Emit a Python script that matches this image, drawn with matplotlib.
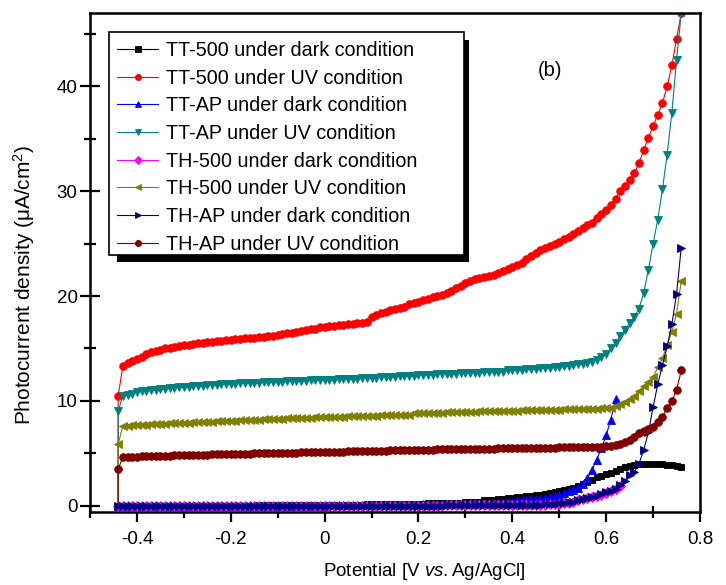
import numpy as np
import matplotlib
matplotlib.use("Agg")
from matplotlib import pyplot as plt
from matplotlib.ticker import MultipleLocator, FuncFormatter
from matplotlib.patches import Rectangle

plt.rcParams['font.family'] = ['Liberation Sans', 'DejaVu Sans']
plt.rcParams['mathtext.fontset'] = 'custom'
plt.rcParams['mathtext.rm'] = 'Liberation Sans'
plt.rcParams['mathtext.it'] = 'Liberation Sans:italic'
plt.rcParams['axes.unicode_minus'] = False

# potential grid, V vs Ag/AgCl
potential = np.round(np.arange(-0.44, 0.7651, 0.01), 2)

# TT-500 under dark condition
tt500_dark = [
    -0.1, 0.0, 0.0, 0.0, 0.0, 0.0, 0.0, 0.0, 0.0, 0.0,
    0.0, 0.0, 0.0, 0.0, 0.0, 0.0, 0.0, 0.0, 0.0, 0.0,
    0.0, 0.0, 0.0, 0.0, 0.0, 0.0, 0.0, 0.0, 0.0, 0.0,
    0.1, 0.1, 0.1, 0.1, 0.1, 0.1, 0.1, 0.1, 0.1, 0.1,
    0.1, 0.1, 0.1, 0.1, 0.1, 0.1, 0.1, 0.1, 0.1, 0.1,
    0.1, 0.1, 0.1, 0.2, 0.2, 0.2, 0.2, 0.2, 0.2, 0.2,
    0.2, 0.2, 0.2, 0.2, 0.2, 0.2, 0.3, 0.3, 0.3, 0.3,
    0.3, 0.3, 0.3, 0.3, 0.4, 0.4, 0.4, 0.4, 0.5, 0.5,
    0.5, 0.6, 0.6, 0.7, 0.7, 0.8, 0.8, 0.9, 0.9, 1.0,
    1.0, 1.1, 1.2, 1.3, 1.4, 1.5, 1.6, 1.7, 1.9, 2.1,
    2.3, 2.5, 2.7, 2.8, 3.0, 3.1, 3.3, 3.5, 3.7, 3.8,
    3.9, 4.0, 4.0, 4.0, 4.0, 4.0, 4.0, 3.9, 3.9, 3.8,
    3.7]

# TT-500 under UV condition
tt500_uv = [
    10.5, 13.3, 13.6, 13.8, 14.0, 14.2, 14.5, 14.7, 14.8, 14.9,
    15.0, 15.0, 15.1, 15.2, 15.3, 15.3, 15.4, 15.5, 15.5, 15.6,
    15.6, 15.7, 15.7, 15.8, 15.8, 15.9, 15.9, 16.0, 16.0, 16.0,
    16.1, 16.1, 16.2, 16.2, 16.3, 16.4, 16.5, 16.5, 16.6, 16.7,
    16.8, 16.9, 16.9, 17.0, 17.0, 17.1, 17.1, 17.2, 17.2, 17.3,
    17.3, 17.4, 17.4, 17.5, 18.0, 18.2, 18.4, 18.5, 18.7, 18.8,
    18.9, 19.0, 19.2, 19.3, 19.4, 19.6, 19.7, 19.9, 20.0, 20.1,
    20.3, 20.5, 20.8, 21.0, 21.2, 21.4, 21.6, 21.7, 21.8, 21.9,
    22.0, 22.2, 22.4, 22.6, 22.8, 23.0, 23.2, 23.5, 23.8, 24.1,
    24.4, 24.6, 24.8, 25.0, 25.2, 25.4, 25.6, 25.9, 26.2, 26.5,
    26.8, 27.0, 27.4, 27.8, 28.2, 28.7, 29.3, 30.0, 30.5, 31.1,
    31.7, 32.7, 33.9, 35.1, 36.2, 37.3, 38.4, 40.0, 42.0, 44.5,
    47.0]

# TT-AP under dark condition (ends at 0.62 V)
ttap_dark = [
    0.0, 0.0, 0.0, 0.0, 0.0, 0.0, 0.0, 0.0, 0.0, 0.0,
    0.0, 0.0, 0.0, 0.0, 0.0, 0.0, 0.0, 0.0, 0.0, 0.0,
    0.0, 0.0, 0.0, 0.0, 0.0, 0.0, 0.0, 0.0, 0.0, 0.0,
    0.0, 0.0, 0.0, 0.0, 0.0, 0.0, 0.0, 0.0, 0.0, 0.0,
    0.0, 0.0, 0.0, 0.0, 0.0, 0.1, 0.1, 0.1, 0.1, 0.1,
    0.1, 0.1, 0.1, 0.1, 0.1, 0.1, 0.1, 0.1, 0.1, 0.1,
    0.1, 0.1, 0.1, 0.1, 0.1, 0.2, 0.2, 0.2, 0.2, 0.2,
    0.2, 0.2, 0.2, 0.2, 0.2, 0.3, 0.3, 0.3, 0.3, 0.3,
    0.3, 0.3, 0.4, 0.4, 0.4, 0.5, 0.5, 0.5, 0.6, 0.6,
    0.6, 0.7, 0.8, 0.9, 1.0, 1.2, 1.4, 1.5, 1.7, 2.1,
    2.6, 3.4, 4.4, 5.5, 6.7, 8.2, 10.2]

# TT-AP under UV condition
ttap_uv = [
    9.0, 10.5, 10.6, 10.7, 10.8, 10.9, 10.9, 11.0, 11.0, 11.1,
    11.1, 11.2, 11.2, 11.3, 11.3, 11.3, 11.4, 11.4, 11.4, 11.5,
    11.5, 11.5, 11.6, 11.6, 11.6, 11.6, 11.7, 11.7, 11.7, 11.7,
    11.7, 11.8, 11.8, 11.8, 11.8, 11.8, 11.9, 11.9, 11.9, 11.9,
    11.9, 12.0, 12.0, 12.0, 12.0, 12.0, 12.0, 12.1, 12.1, 12.1,
    12.1, 12.1, 12.2, 12.2, 12.2, 12.2, 12.3, 12.3, 12.3, 12.3,
    12.4, 12.4, 12.4, 12.4, 12.5, 12.5, 12.5, 12.5, 12.6, 12.6,
    12.6, 12.6, 12.6, 12.7, 12.7, 12.7, 12.7, 12.7, 12.8, 12.8,
    12.8, 12.8, 12.8, 12.9, 12.9, 12.9, 12.9, 13.0, 13.0, 13.0,
    13.1, 13.1, 13.1, 13.2, 13.2, 13.3, 13.3, 13.4, 13.5, 13.5,
    13.6, 13.7, 13.9, 14.2, 14.5, 15.0, 15.5, 16.2, 16.8, 17.4,
    18.0, 18.8, 20.3, 22.5, 25.0, 27.3, 30.2, 33.5, 37.5, 42.5,
    47.0]

# TH-500 under dark condition (ends at 0.63 V)
th500_dark = [
    0.0, 0.0, 0.0, 0.0, 0.0, 0.0, 0.0, 0.0, 0.0, 0.0,
    0.0, 0.0, 0.0, 0.0, 0.0, 0.0, 0.0, 0.0, 0.0, 0.0,
    0.0, 0.0, 0.0, 0.0, 0.0, 0.0, 0.0, 0.0, 0.0, 0.0,
    0.0, 0.0, 0.0, 0.0, 0.0, 0.0, 0.0, 0.0, 0.0, 0.0,
    0.0, 0.0, 0.0, 0.0, 0.0, 0.0, 0.0, 0.0, 0.0, 0.0,
    0.0, 0.0, 0.0, 0.0, 0.0, 0.0, 0.0, 0.0, 0.0, 0.0,
    0.0, 0.0, 0.0, 0.0, 0.0, 0.0, 0.0, 0.0, 0.0, 0.0,
    0.1, 0.1, 0.1, 0.1, 0.1, 0.1, 0.1, 0.1, 0.1, 0.1,
    0.1, 0.1, 0.1, 0.1, 0.1, 0.1, 0.1, 0.1, 0.1, 0.1,
    0.1, 0.1, 0.2, 0.2, 0.2, 0.3, 0.3, 0.4, 0.5, 0.6,
    0.7, 0.8, 0.9, 1.0, 1.2, 1.4, 1.6, 1.9]

# TH-500 under UV condition
th500_uv = [
    5.9, 7.6, 7.6, 7.7, 7.7, 7.7, 7.7, 7.8, 7.8, 7.8,
    7.8, 7.9, 7.9, 7.9, 7.9, 7.9, 8.0, 8.0, 8.0, 8.0,
    8.0, 8.1, 8.1, 8.1, 8.1, 8.1, 8.2, 8.2, 8.2, 8.2,
    8.2, 8.3, 8.3, 8.3, 8.3, 8.3, 8.4, 8.4, 8.4, 8.4,
    8.4, 8.4, 8.5, 8.5, 8.5, 8.5, 8.5, 8.5, 8.5, 8.6,
    8.6, 8.6, 8.6, 8.6, 8.6, 8.6, 8.7, 8.7, 8.7, 8.7,
    8.7, 8.7, 8.7, 8.8, 8.8, 8.8, 8.8, 8.8, 8.8, 8.8,
    8.9, 8.9, 8.9, 8.9, 8.9, 8.9, 8.9, 9.0, 9.0, 9.0,
    9.0, 9.0, 9.0, 9.0, 9.0, 9.0, 9.1, 9.1, 9.1, 9.1,
    9.1, 9.1, 9.1, 9.1, 9.1, 9.2, 9.2, 9.2, 9.2, 9.2,
    9.2, 9.2, 9.2, 9.3, 9.3, 9.3, 9.5, 9.7, 9.9, 10.2,
    10.5, 10.9, 11.4, 11.8, 12.3, 13.2, 14.1, 15.3, 16.6, 18.3,
    21.4]

# TH-AP under dark condition
thap_dark = [
    0.0, 0.0, 0.0, 0.0, 0.0, 0.0, 0.0, 0.0, 0.0, 0.0,
    0.0, 0.0, 0.0, 0.0, 0.0, 0.0, 0.0, 0.0, 0.0, 0.0,
    0.0, 0.0, 0.0, 0.0, 0.0, 0.0, 0.0, 0.0, 0.0, 0.0,
    0.0, 0.0, 0.0, 0.0, 0.0, 0.0, 0.0, 0.0, 0.0, 0.0,
    0.0, 0.0, 0.0, 0.0, 0.0, 0.0, 0.0, 0.0, 0.0, 0.0,
    0.0, 0.0, 0.0, 0.0, 0.0, 0.0, 0.0, 0.0, 0.0, 0.0,
    0.0, 0.0, 0.0, 0.0, 0.0, 0.0, 0.0, 0.0, 0.0, 0.0,
    0.1, 0.1, 0.1, 0.1, 0.1, 0.1, 0.1, 0.1, 0.1, 0.1,
    0.1, 0.1, 0.1, 0.1, 0.1, 0.1, 0.1, 0.1, 0.1, 0.1,
    0.1, 0.2, 0.2, 0.2, 0.3, 0.3, 0.4, 0.4, 0.5, 0.6,
    0.7, 0.8, 0.9, 1.1, 1.3, 1.4, 1.6, 2.0, 2.4, 2.9,
    3.2, 4.0, 5.3, 7.0, 9.4, 11.6, 13.4, 15.2, 17.3, 20.2,
    24.6]

# TH-AP under UV condition
thap_uv = [
    3.5, 4.6, 4.6, 4.6, 4.6, 4.7, 4.7, 4.7, 4.7, 4.7,
    4.7, 4.7, 4.8, 4.8, 4.8, 4.8, 4.8, 4.8, 4.8, 4.8,
    4.9, 4.9, 4.9, 4.9, 4.9, 4.9, 4.9, 4.9, 4.9, 5.0,
    5.0, 5.0, 5.0, 5.0, 5.0, 5.0, 5.0, 5.0, 5.0, 5.1,
    5.1, 5.1, 5.1, 5.1, 5.1, 5.1, 5.1, 5.1, 5.1, 5.2,
    5.2, 5.2, 5.2, 5.2, 5.2, 5.2, 5.2, 5.2, 5.3, 5.3,
    5.3, 5.3, 5.3, 5.3, 5.3, 5.3, 5.3, 5.3, 5.4, 5.4,
    5.4, 5.4, 5.4, 5.4, 5.4, 5.4, 5.4, 5.4, 5.4, 5.4,
    5.4, 5.5, 5.5, 5.5, 5.5, 5.5, 5.5, 5.5, 5.5, 5.5,
    5.5, 5.5, 5.5, 5.5, 5.6, 5.6, 5.6, 5.6, 5.6, 5.6,
    5.6, 5.6, 5.6, 5.6, 5.7, 5.7, 5.8, 5.9, 6.1, 6.3,
    6.6, 6.9, 7.1, 7.3, 7.5, 8.0, 8.5, 9.3, 10.0, 11.0,
    12.9]

labels = ['TT-500 under dark condition', 'TT-500 under UV condition',
          'TT-AP under dark condition', 'TT-AP under UV condition',
          'TH-500 under dark condition', 'TH-500 under UV condition',
          'TH-AP under dark condition', 'TH-AP under UV condition']
series = [tt500_dark, tt500_uv, ttap_dark, ttap_uv,
          th500_dark, th500_uv, thap_dark, thap_uv]
is_uv = [False, True, False, True, False, True, False, True]
colors = ['#000000', '#FF0000', '#0000FF', '#008080',
          '#FF00FF', '#808000', '#000080', '#800000']
markers = ['s', 'o', '^', 'v', 'D', '<', '>', 'o']
msizes = [4.8, 5.5, 5.5, 5.5, 4.6, 5.5, 5.5, 5.5]

fig = plt.figure(figsize=(7.26, 5.85), dpi=100)
ax = fig.add_axes([90 / 726, 1 - 512 / 585, 610 / 726, 499 / 585])

handles = []
for vals, uv, c, m, ms, lab in zip(series, is_uv, colors, markers, msizes, labels):
    x = potential[:len(vals)]
    y = np.array(vals)
    if uv:
        # photocurrent switches on from zero at the start of the sweep
        x = np.concatenate([[x[0]], x])
        y = np.concatenate([[0.0], y])
        mk = slice(1, None)
    else:
        mk = None
    h, = ax.plot(x, y, color=c, marker=m, markersize=ms, markevery=mk,
                 linewidth=0.8, markeredgewidth=0.6, label=lab)
    handles.append(h)

ax.set_xlim(-0.5, 0.8)
ax.set_ylim(-0.6, 47)
ax.xaxis.set_major_locator(MultipleLocator(0.2))
ax.xaxis.set_minor_locator(MultipleLocator(0.1))
ax.yaxis.set_major_locator(MultipleLocator(10))
ax.yaxis.set_minor_locator(MultipleLocator(5))
ax.xaxis.set_major_formatter(FuncFormatter(lambda v, p: '%g' % round(v, 2)))

ax.tick_params(axis='x', which='major', direction='out', length=7, width=1.6,
               labelsize=13.5, pad=7)
ax.tick_params(axis='x', which='minor', direction='inout', length=8, width=1.6)
ax.tick_params(axis='y', which='major', direction='inout', length=14, width=1.6,
               labelsize=13.5, pad=2)
ax.tick_params(axis='y', which='minor', direction='inout', length=8.5, width=1.6)
for s in ax.spines.values():
    s.set_linewidth(1.8)

ax.set_xlabel(r'Potential [V $\mathit{vs.}$Ag/AgCl]', fontsize=13.5)
ax.set_ylabel(r'Photocurrent density ($\mathrm{\mu}$A/cm$^2$)', fontsize=15)
ax.xaxis.set_label_coords(0.548, -0.098)
ax.yaxis.set_label_coords(-0.087, 0.455)
ax.text(0.48, 41.5, '(b)', fontsize=14.5, ha='center', va='center')

# legend box with offset black shadow (Origin style)
fig.add_artist(Rectangle((117 / 726, 1 - 262 / 585), 352 / 726, 222 / 585,
                         transform=fig.transFigure, facecolor='black',
                         edgecolor='none', zorder=2))
fig.add_artist(Rectangle((109 / 726, 1 - 255 / 585), 355 / 726, 223 / 585,
                         transform=fig.transFigure, facecolor='white',
                         edgecolor='black', linewidth=1.2, zorder=3))
leg = fig.legend(handles, labels, loc='upper left',
                 bbox_to_anchor=(109 / 726, 1 - 33 / 585),
                 bbox_transform=fig.transFigure, frameon=False, fontsize=14.2,
                 handlelength=2.1, handletextpad=0.4, labelspacing=0.44,
                 borderpad=0.4, borderaxespad=0, markerscale=0.8)
leg.set_zorder(5)

fig.savefig('out.png', dpi=100)
